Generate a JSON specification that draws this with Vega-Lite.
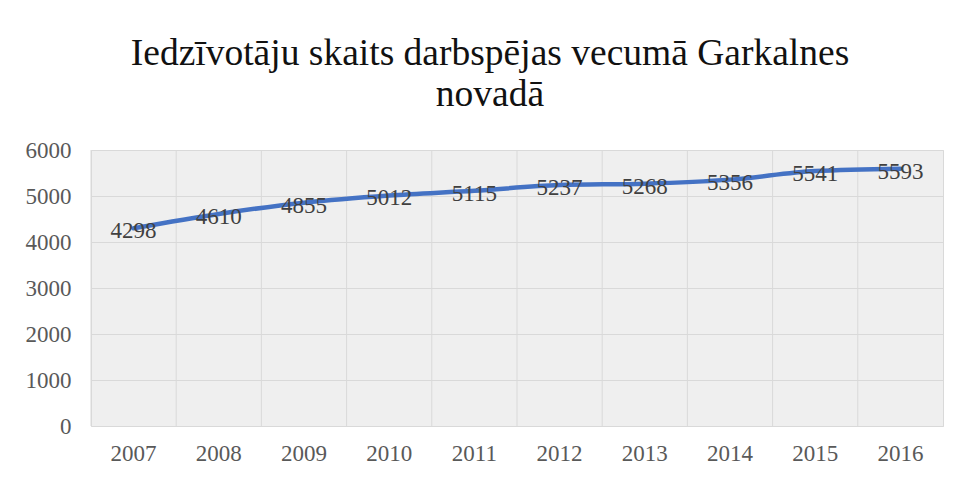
{
  "$schema": "https://vega.github.io/schema/vega-lite/v6.json",
  "autosize": "none",
  "width": 852,
  "height": 276,
  "padding": {"left": 91, "top": 150, "right": 18, "bottom": 51},
  "background": "white",
  "config": {
    "font": "Liberation Serif",
    "view": {"stroke": "#d9d9d9", "strokeWidth": 1, "fill": "#efefef"}
  },
  "title": {
    "text": ["Iedzīvotāju skaits darbspējas vecumā Garkalnes", "novadā"],
    "font": "Liberation Serif",
    "fontSize": 37.5,
    "fontWeight": "normal",
    "color": "#111111",
    "anchor": "middle",
    "dx": -27,
    "offset": 26,
    "lineHeight": 41
  },
  "data": {
    "values": [
      {"year": "2007", "value": 4298},
      {"year": "2008", "value": 4610},
      {"year": "2009", "value": 4855},
      {"year": "2010", "value": 5012},
      {"year": "2011", "value": 5115},
      {"year": "2012", "value": 5237},
      {"year": "2013", "value": 5268},
      {"year": "2014", "value": 5356},
      {"year": "2015", "value": 5541},
      {"year": "2016", "value": 5593}
    ]
  },
  "encoding": {
    "x": {
      "field": "year",
      "type": "ordinal",
      "scale": {"type": "band", "paddingInner": 0, "paddingOuter": 0},
      "axis": {
        "title": null,
        "grid": false,
        "ticks": false,
        "domain": false,
        "labelAngle": 0,
        "labelFont": "Liberation Serif",
        "labelFontSize": 23,
        "labelColor": "#595959",
        "labelPadding": 16
      }
    }
  },
  "layer": [
    {
      "mark": {"type": "rule", "stroke": "#d9d9d9", "strokeWidth": 1},
      "encoding": {
        "x": {"field": "year", "type": "ordinal", "bandPosition": 0}
      }
    },
    {
      "mark": {"type": "line", "color": "#4472C4", "strokeWidth": 4.5, "interpolate": "monotone", "strokeCap": "round"},
      "encoding": {
        "x": {"field": "year", "type": "ordinal", "bandPosition": 0.5},
        "y": {
          "field": "value",
          "type": "quantitative",
          "scale": {"domain": [0, 6000]},
          "axis": {
            "title": null,
            "values": [0, 1000, 2000, 3000, 4000, 5000, 6000],
            "format": "d",
            "grid": true,
            "gridColor": "#d9d9d9",
            "ticks": false,
            "domain": false,
            "labelFont": "Liberation Serif",
            "labelFontSize": 23,
            "labelColor": "#595959",
            "labelPadding": 20
          }
        }
      }
    },
    {
      "mark": {"type": "text", "font": "Liberation Serif", "fontSize": 23, "color": "#404040", "baseline": "middle", "dy": 3},
      "encoding": {
        "x": {"field": "year", "type": "ordinal", "bandPosition": 0.5},
        "y": {"field": "value", "type": "quantitative"},
        "text": {"field": "value", "type": "quantitative", "format": "d"}
      }
    }
  ]
}
